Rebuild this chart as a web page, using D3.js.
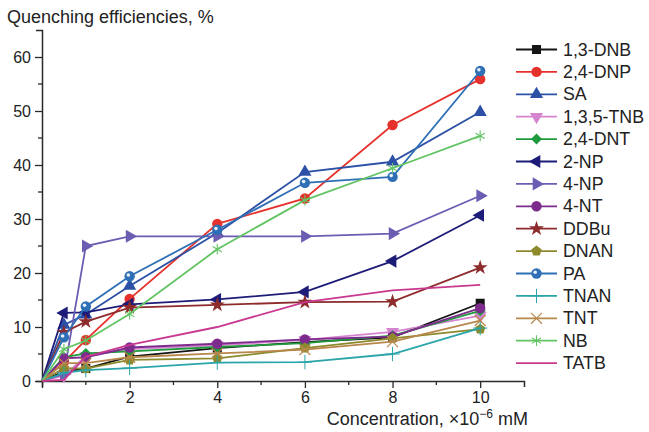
<!DOCTYPE html>
<html><head><meta charset="utf-8">
<script src="https://cdn.jsdelivr.net/npm/d3@7"></script>
<style>
html,body{margin:0;padding:0;background:#fff;}
svg{display:block;font-family:"Liberation Sans",Arial,sans-serif;}
</style></head>
<body>
<svg id="chart" width="649" height="432"></svg>
<script>
// ---- data ----
const concentrations = [0, 0.5, 1, 2, 4, 6, 8, 10];
const seriesNames = ["1,3-DNB","2,4-DNP","SA","1,3,5-TNB","2,4-DNT","2-NP","4-NP","4-NT","DDBu","DNAN","PA","TNAN","TNT","NB","TATB"];
const dnb13  = [0, 1.8, 2.3, 4.5, 6.1, 7.2, 8.1, 14.4];
const dnp24  = [0, 3.5, 7.6, 15.2, 29.1, 33.8, 47.4, 55.9];
const sa     = [0, 10.4, 12.3, 17.6, 27.4, 38.7, 40.6, 49.8];
const tnb135 = [0, 1.0, 4.6, 5.9, 6.6, 7.6, 9.1, 12.1];
const dnt24  = [0, 4.4, 5.1, 5.5, 6.3, 7.0, 8.4, 13.0];
const np2    = [0, 12.6, 12.7, 14.2, 15.1, 16.5, 22.2, 30.7];
const np4    = [0, 1.3, 25.0, 26.8, 26.8, 26.8, 27.3, 34.3];
const nt4    = [0, 4.2, 4.4, 6.2, 6.9, 7.7, 8.2, 13.5];
const ddbu   = [0, 9.0, 11.0, 13.6, 14.1, 14.6, 14.7, 21.0];
const dnan   = [0, 2.4, 2.3, 3.9, 4.2, 6.1, 7.9, 9.6];
const pa     = [0, 8.1, 13.8, 19.4, 28.0, 36.7, 37.8, 57.4];
const tnan   = [0, 1.5, 2.0, 2.4, 3.4, 3.5, 5.0, 9.8];
const tnt    = [0, 3.3, 3.3, 4.4, 5.1, 5.8, 7.3, 11.2];
const nb     = [0, 5.9, 7.5, 12.4, 24.4, 33.5, 39.4, 45.4];
const tatb   = [0, 0.2, 4.5, 6.7, 10.0, 14.6, 16.8, 17.8];
const seriesValues = [dnb13, dnp24, sa, tnb135, dnt24, np2, np4, nt4, ddbu, dnan, pa, tnan, tnt, nb, tatb];
const colors = ["#151515","#e5322d","#2b50a6","#d584d0","#1f9a3c","#1d1c78","#6c5db3","#7e2b8e","#8d2b2d","#8c8a2b","#2f6fb6","#2ba5aa","#b8874c","#62c463","#c9398f"];
const markers = ["square","circle","triUp","triDown","diamond","triLeft","triRight","circle","star","pentagon","circleDot","plus","x","asterisk","none"];
const yTicks = [0, 10, 20, 30, 40, 50, 60];
const xTicks = [2, 4, 6, 8, 10];

// ---- layout ----
const svg = d3.select("#chart");
const x = d3.scaleLinear().domain([0, 11]).range([42, 524]);
const y = d3.scaleLinear().domain([0, 65]).range([381, 30]);
const axisColor = "#2a2a2a";

// minor ticks
svg.append("g").selectAll("line").data([5,15,25,35,45,55]).join("line")
  .attr("x1", x(0)).attr("x2", x(0) - 4).attr("y1", d => y(d)).attr("y2", d => y(d))
  .attr("stroke", axisColor).attr("stroke-width", 1.3);
svg.append("g").selectAll("line").data([1,3,5,7,9]).join("line")
  .attr("x1", d => x(d)).attr("x2", d => x(d)).attr("y1", y(0)).attr("y2", y(0) + 4)
  .attr("stroke", axisColor).attr("stroke-width", 1.3);

const yAxis = svg.append("g").attr("transform", `translate(${x(0)},0)`)
  .call(d3.axisLeft(y).tickValues(yTicks).tickSize(7).tickSizeOuter(6).tickPadding(4));
const xAxis = svg.append("g").attr("transform", `translate(0,${y(0)})`)
  .call(d3.axisBottom(x).tickValues([0].concat(xTicks)).tickFormat(d => d === 0 ? "" : d).tickSize(7).tickSizeOuter(6).tickPadding(4));
[yAxis, xAxis].forEach(g => {
  g.selectAll("path").attr("stroke", axisColor).attr("stroke-width", 1.5);
  g.selectAll("line").attr("stroke", axisColor).attr("stroke-width", 1.3);
  g.selectAll("text").attr("fill", "#222").style("font-size", "16px").style("font-family", "Liberation Sans, Arial, sans-serif");
});

// titles
svg.append("text").attr("x", 7).attr("y", 23).attr("fill", "#222")
  .style("font-size", "18px").text("Quenching efficiencies, %");
const xl = svg.append("text").attr("x", 528).attr("y", 425).attr("text-anchor", "end")
  .attr("fill", "#222").style("font-size", "18px");
xl.append("tspan").text("Concentration, \u00d710");
xl.append("tspan").attr("dy", -7).style("font-size", "12px").text("\u22126");
xl.append("tspan").attr("dy", 7).text(" mM");

// marker drawing
function drawMarker(g, type, color, cx, cy) {
  const s = 5.2;
  const tri = (rot) => {
    const p = d3.symbol().type(d3.symbolTriangle).size(75)();
    g.append("path").attr("d", p).attr("transform", `translate(${cx},${cy}) rotate(${rot})`).attr("fill", color);
  };
  switch (type) {
    case "square": g.append("rect").attr("x", cx - 4.5).attr("y", cy - 4.5).attr("width", 9).attr("height", 9).attr("fill", color); break;
    case "circle": g.append("circle").attr("cx", cx).attr("cy", cy).attr("r", s).attr("fill", color); break;
    case "circleDot":
      g.append("circle").attr("cx", cx).attr("cy", cy).attr("r", s).attr("fill", color);
      g.append("circle").attr("cx", cx - 1.3).attr("cy", cy - 1.3).attr("r", 1.8).attr("fill", "#e8f0fa");
      break;
    case "triUp": tri(0); break;
    case "triDown": tri(180); break;
    case "triLeft": tri(-90); break;
    case "triRight": tri(90); break;
    case "diamond": g.append("path").attr("d", d3.symbol().type(d3.symbolSquare).size(60)()).attr("transform", `translate(${cx},${cy}) rotate(45)`).attr("fill", color); break;
    case "star": g.append("path").attr("d", d3.symbol().type(d3.symbolStar).size(70)()).attr("transform", `translate(${cx},${cy})`).attr("fill", color); break;
    case "pentagon": {
      const pts = d3.range(5).map(i => { const a = -Math.PI / 2 + i * 2 * Math.PI / 5; return [cx + 5.5 * Math.cos(a), cy + 5.5 * Math.sin(a)]; });
      g.append("polygon").attr("points", pts.map(p => p.join(",")).join(" ")).attr("fill", color); break;
    }
    case "plus": g.append("path").attr("d", d3.symbol().type(d3.symbolPlus).size(70)()).attr("transform", `translate(${cx},${cy})`).attr("fill", "none").attr("stroke", color).attr("stroke-width", 1); break;
    case "x": g.append("path").attr("d", d3.symbol().type(d3.symbolX).size(80)()).attr("transform", `translate(${cx},${cy})`).attr("fill", "none").attr("stroke", color).attr("stroke-width", 1.2); break;
    case "asterisk": g.append("path").attr("d", d3.symbol().type(d3.symbolAsterisk).size(80)()).attr("transform", `translate(${cx},${cy})`).attr("fill", "none").attr("stroke", color).attr("stroke-width", 1.1); break;
    default: break;
  }
}

const line = d3.line().x((d, i) => x(concentrations[i])).y(d => y(d));
const plot = svg.append("g");
seriesValues.forEach((vals, si) => {
  const g = plot.append("g");
  g.append("path").attr("d", line(vals)).attr("fill", "none").attr("stroke", colors[si]).attr("stroke-width", 1.8);
  vals.forEach((v, i) => { if (i > 0) drawMarker(g, markers[si], colors[si], x(concentrations[i]), y(v)); });
});

// legend
const leg = svg.append("g");
seriesNames.forEach((name, i) => {
  const yy = 49.5 + i * 22.4;
  leg.append("line").attr("x1", 516).attr("x2", 557).attr("y1", yy).attr("y2", yy).attr("stroke", colors[i]).attr("stroke-width", 1.8);
  drawMarker(leg, markers[i], colors[i], 536.5, yy);
  leg.append("text").attr("x", 563).attr("y", yy + 6).attr("fill", "#222").style("font-size", "17.8px").text(name);
});
</script>
</body></html>
